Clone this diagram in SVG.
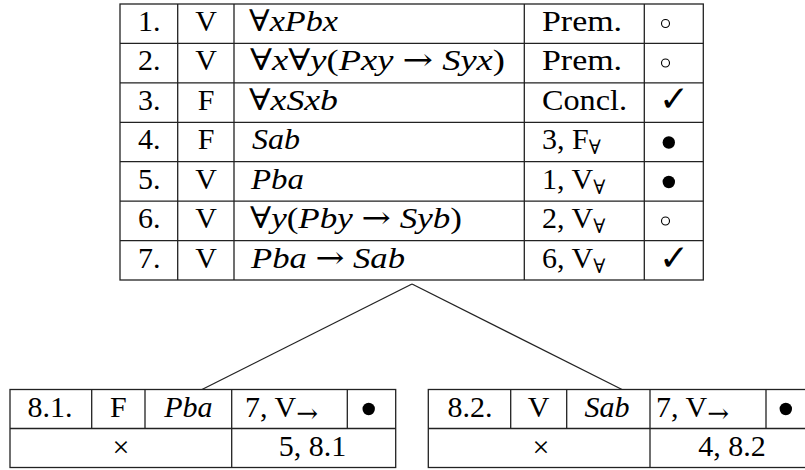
<svg xmlns="http://www.w3.org/2000/svg" width="805" height="470" viewBox="0 0 805 470">
<style>
.t{font-family:"Liberation Serif","DejaVu Serif",serif;font-size:30px;fill:#000}
.m{text-anchor:middle}
.i{font-style:italic}
.s{font-size:20px}
.a{font-family:"DejaVu Serif",serif;font-style:normal}
.sa{font-size:26px}
.b{fill:none;stroke:#222;stroke-width:1.3}
.ring{fill:none;stroke:#000;stroke-width:1.1}
.dot{fill:#000}
.ck{font-family:"DejaVu Sans",sans-serif;font-size:36px;text-anchor:middle}
</style>
<rect width="805" height="470" fill="#fff"/>
<g id="connectors">
<line class="b" x1="412" y1="284" x2="202" y2="389.5"/>
<line class="b" x1="412" y1="284" x2="622" y2="389.5"/>
</g>
<g id="main-table">
<rect class="b" x="120" y="4" width="583.3" height="276"/>
<path class="b" d="M120 43.43H703.3M120 82.86H703.3M120 122.29H703.3M120 161.71H703.3M120 201.14H703.3M120 240.57H703.3M177.7 4V280M234 4V280M524.3 4V280M644.3 4V280"/>
<g class="t">
<text x="138" y="31">1.</text>
<text x="138" y="70.4">2.</text>
<text x="138" y="109.9">3.</text>
<text x="138" y="149.3">4.</text>
<text x="138" y="188.7">5.</text>
<text x="138" y="228.1">6.</text>
<text x="138" y="267.6">7.</text>
<text class="m" x="206" y="31">V</text>
<text class="m" x="206" y="70.4">V</text>
<text class="m" x="206" y="109.9">F</text>
<text class="m" x="206" y="149.3">F</text>
<text class="m" x="206" y="188.7">V</text>
<text class="m" x="206" y="228.1">V</text>
<text class="m" x="206" y="267.6">V</text>
<text x="249" y="31" textLength="89" lengthAdjust="spacingAndGlyphs">∀<tspan class="i">xPbx</tspan></text>
<text x="250" y="70.4" textLength="255" lengthAdjust="spacingAndGlyphs">∀<tspan class="i">x</tspan>∀<tspan class="i">y</tspan>(<tspan class="i">Pxy</tspan> <tspan class="a">→</tspan> <tspan class="i">Syx</tspan>)</text>
<text x="249" y="109.9" textLength="89" lengthAdjust="spacingAndGlyphs">∀<tspan class="i">xSxb</tspan></text>
<text class="i" x="252" y="149.3" textLength="48" lengthAdjust="spacingAndGlyphs">Sab</text>
<text class="i" x="251" y="188.7" textLength="53" lengthAdjust="spacingAndGlyphs">Pba</text>
<text x="250" y="228.1" textLength="212" lengthAdjust="spacingAndGlyphs">∀<tspan class="i">y</tspan>(<tspan class="i">Pby</tspan> <tspan class="a">→</tspan> <tspan class="i">Syb</tspan>)</text>
<text x="251" y="267.6" textLength="154" lengthAdjust="spacingAndGlyphs"><tspan class="i">Pba</tspan> <tspan class="a">→</tspan> <tspan class="i">Sab</tspan></text>
<text x="542" y="31" textLength="80" lengthAdjust="spacingAndGlyphs">Prem.</text>
<text x="542" y="70.4" textLength="80" lengthAdjust="spacingAndGlyphs">Prem.</text>
<text x="542" y="109.9" textLength="85" lengthAdjust="spacingAndGlyphs">Concl.</text>
<text x="542" y="149.3">3, F<tspan class="s" dy="5">∀</tspan></text>
<text x="542" y="188.7">1, V<tspan class="s" dy="5">∀</tspan></text>
<text x="542" y="228.1">2, V<tspan class="s" dy="5">∀</tspan></text>
<text x="542" y="267.6">6, V<tspan class="s" dy="5">∀</tspan></text>
<text class="ck" x="674" y="111">✓</text>
<text class="ck" x="674" y="269.5">✓</text>
</g>
<circle class="ring" cx="665.5" cy="23.5" r="4"/>
<circle class="ring" cx="665.5" cy="63" r="4"/>
<circle class="dot" cx="668.8" cy="142.5" r="6.2"/>
<circle class="dot" cx="668.8" cy="182" r="6.2"/>
<circle class="ring" cx="665.5" cy="221" r="4"/>
</g>
<g id="branch-left">
<rect class="b" x="10" y="389.5" width="385.7" height="78"/>
<path class="b" d="M10 428.5H395.7M91.7 389.5V428.5M145 389.5V428.5M231.7 389.5V467.5M347.3 389.5V428.5"/>
<g class="t">
<text class="m" x="50" y="417">8.1.</text>
<text class="m" x="118.3" y="417">F</text>
<text class="m i" x="188.3" y="417">Pba</text>
<text x="245" y="417">7, V<tspan class="sa a" dy="5">→</tspan></text>
<text class="m" x="121" y="457">×</text>
<text class="m" x="312.5" y="456">5, 8.1</text>
</g>
<circle class="dot" cx="368.7" cy="409" r="6.2"/>
</g>
<g id="branch-right">
<rect class="b" x="428.3" y="389.5" width="386" height="78"/>
<path class="b" d="M428.3 428.5H814.3M510.7 389.5V428.5M566.7 389.5V428.5M650 389.5V467.5M766 389.5V428.5"/>
<g class="t">
<text class="m" x="470" y="417">8.2.</text>
<text class="m" x="538.7" y="417">V</text>
<text class="m i" x="607" y="417">Sab</text>
<text x="656" y="417">7, V<tspan class="sa a" dy="5">→</tspan></text>
<text class="m" x="541" y="457">×</text>
<text class="m" x="732" y="456">4, 8.2</text>
</g>
<circle class="dot" cx="785.8" cy="409" r="6.2"/>
</g>
</svg>
